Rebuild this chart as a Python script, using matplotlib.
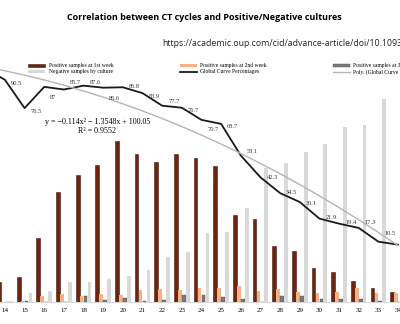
import numpy as np
import matplotlib.pyplot as plt

# CT cycles
ct = list(range(14, 35))

# bar values (arbitrary units)
pos_week1 = [20, 25, 64, 110, 127, 137, 161, 148, 140, 148, 144, 136, 87, 83, 56, 51, 34, 30, 21, 14, 10]
pos_week2 = [0, 1, 6, 8, 6, 8, 7, 12, 13, 12, 14, 14, 16, 11, 13, 10, 9, 10, 14, 9, 9]
pos_week3 = [0, 1, 0, 0, 6, 2, 4, 1, 2, 7, 7, 5, 3, 0, 6, 6, 3, 3, 3, 1, 0]
negative = [1, 9, 11, 20, 20, 23, 26, 32, 45, 50, 69, 70, 94, 134, 139, 150, 158, 175, 177, 203, 215]

# global curve percentages (CT 12 and 13 sit outside the crop)
curve_ct = list(range(12, 35))
curve_pct = [100, 96, 90.5, 76.5, 87, 85.7, 87.6, 86.6, 86.8, 83.9, 77.7, 76.7, 70.7,
             68.7, 53.1, 42.3, 34.5, 30.1, 21.9, 19.4, 17.3, 10.5, 9.0]
labelled = curve_pct[2:-1]
label_dy = [4, 3, 11, -7, -3, 11, -1, 3, -4, 3, 10, 3, -4, 0, -1, 1, -1, -1, -5, -8]

# polynomial trendline as printed on the chart
trend_coef = [-0.114, -1.3548, 100.05]

fig = plt.figure(figsize=(4, 3.24), dpi=100)
ax = fig.add_axes([0, 0.068, 1, 0.81])
x = np.array(ct)
w = 0.19
ax.bar(x - 0.3, pos_week1, w, color='#6b2612', edgecolor='#4a1808', lw=0.4,
       label='Positive samples at 1st week')
ax.bar(x - 0.1, pos_week2, w, color='#f4b183', lw=0,
       label='Positive samples at 2nd week')
ax.bar(x + 0.1, pos_week3, w, color='#7a7a7a', edgecolor='#555555', lw=0.3,
       label='Positive samples at 3rd week')
ax.bar(x + 0.3, negative, w, color='#d9d9d9', lw=0,
       label='Negative samples by culture')
ax.set_xlim(13.75, 34.1)
ax.set_ylim(0, 262)
ax.set_xticks(ct)
ax.set_xticklabels([str(c) for c in ct], family='Liberation Serif', fontsize=5)
ax.tick_params(axis='x', length=0, pad=4)
ax.set_yticks([])
for s in ['top', 'left', 'right']:
    ax.spines[s].set_visible(False)
ax.spines['bottom'].set_color('#d0d0d0')
ax.spines['bottom'].set_linewidth(0.6)

ax2 = ax.twinx()
ax2.set_ylim(-19.3, 110.4)
ax2.axis('off')
ax2.plot(curve_ct, curve_pct, color='#1a1a1a', lw=1.3, label='Global Curve Percentages')
idx = np.arange(1, len(curve_ct) + 1)
ax2.plot(curve_ct, np.polyval(trend_coef, idx), color='#b5b5b5', lw=1.0,
         label='Poly. (Global Curve Percentages)')
for c, p, dy in zip(curve_ct[2:-1], labelled, label_dy):
    txt = str(int(p)) if p == int(p) else str(p)
    ax2.annotate(txt, (c, p), xytext=(4.3, -dy * 0.72), textcoords='offset points',
                 ha='left', va='center', fontsize=4.6, family='Liberation Serif',
                 color='#333333')

ax2.text(18.7, 69.8, 'y = \u22120.114x\u00b2 \u2212 1.3548x + 100.05', fontsize=5.8,
         family='Liberation Serif', ha='center', va='center')
ax2.text(18.7, 65.4, 'R\u00b2 = 0.9552', fontsize=5.8, family='Liberation Serif',
         ha='center', va='center')

h1, l1 = ax.get_legend_handles_labels()
h2, l2 = ax2.get_legend_handles_labels()
hs = h1 + h2
ls = l1 + l2
hs = [hs[i] for i in [0, 3, 1, 4, 2, 5]]
ls = [ls[i] for i in [0, 3, 1, 4, 2, 5]]
fig.legend(hs, ls, ncol=3, loc='upper left', bbox_to_anchor=(0.058, 0.82),
           frameon=False, prop={'family': 'Liberation Serif', 'size': 4.1},
           handlelength=3, handleheight=0.3, handletextpad=0.6,
           columnspacing=11.6, labelspacing=0.15)

fig.text(0.51, 0.945, 'Correlation between CT cycles and Positive/Negative cultures',
         ha='center', va='center', fontsize=6.5, fontweight='bold', family='Open Sans')
fig.text(0.405, 0.865, 'https://academic.oup.com/cid/advance-article/doi/10.1093/cid/ciaa638',
         ha='left', va='center', fontsize=6.3, family='Open Sans', color='#222222')

fig.savefig('out.png', dpi=100)
